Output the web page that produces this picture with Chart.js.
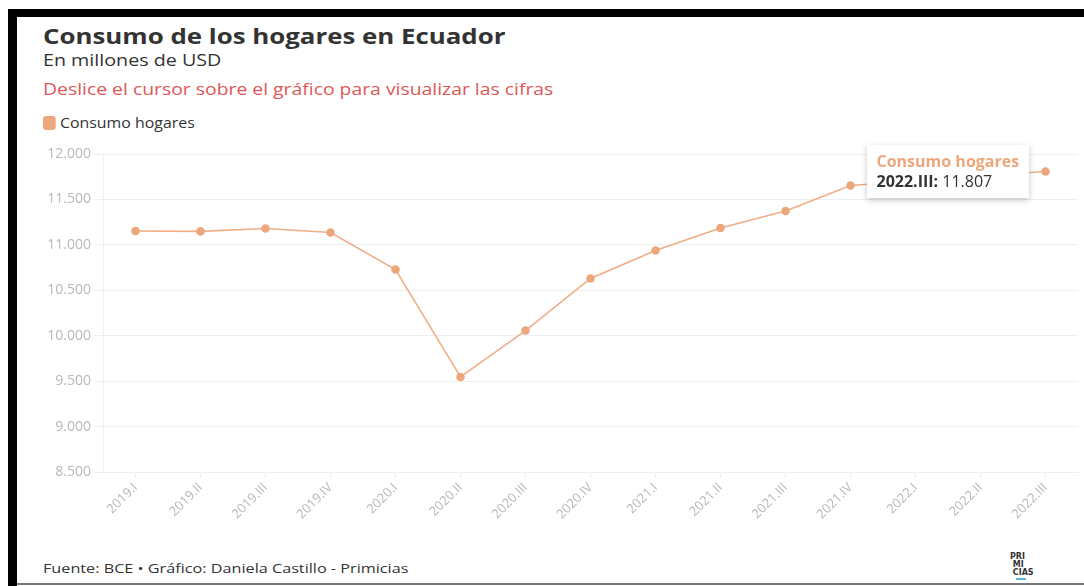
<!DOCTYPE html>
<html>
<head>
<meta charset="utf-8">
<script src="https://cdn.jsdelivr.net/npm/chart.js@4/dist/chart.umd.min.js"></script>
<style>
  html, body { margin: 0; padding: 0; background: #fff; }
  body { width: 1084px; height: 586px; position: relative; overflow: hidden; font-family: "Open Sans", Lato, sans-serif; }
  .marco-top { position: absolute; left: 8px; top: 9px; width: 1076px; height: 8px; background: #000; }
  .marco-left { position: absolute; left: 8px; top: 9px; width: 9px; height: 577px; background: #000; }
  .marco-bottom { position: absolute; left: 17px; top: 583px; width: 1067px; height: 2px; background: #777; }
  .texto { position: absolute; left: 43px; white-space: nowrap; transform-origin: 0 0; line-height: normal; }
  #titulo { top: 20px; font-size: 22px; font-weight: 700; color: #333; transform: scaleX(1.175); }
  #subtitulo { top: 49px; font-size: 15.5px; color: #333; transform: scaleX(1.27); }
  #aviso { top: 78px; font-size: 16px; color: #e05757; transform: scaleX(1.21); }
  #leyenda { top: 112px; font-size: 15px; color: #333; transform: scaleX(1.06); }
  #leyenda span.cuadro { display: inline-block; width: 12px; height: 14px; border-radius: 3px; background: #eda77c; vertical-align: -2px; margin-right: 4px; }
  #grafico { position: absolute; left: 0; top: 140px; width: 1084px; height: 380px; }
  #fuente { top: 559px; font-size: 13.5px; color: #333; transform: scaleX(1.2); }
  #logo { position: absolute; left: 1010px; top: 553px; font-size: 8px; font-weight: 900; line-height: 8px; color: #333; font-family: "DejaVu Sans", sans-serif; }
  #logo .raya { width: 10px; height: 2px; background: #5ab4e0; margin: 1px 0 0 6px; }
  #tooltip { position: absolute; background: #fff; box-shadow: 0 2px 6px rgba(0,0,0,0.22); padding: 6px 10px 7px 10px; white-space: nowrap; pointer-events: none; }
  #tooltip .t { color: #eda77c; font-weight: 700; font-size: 16px; line-height: 20px; }
  #tooltip .b { color: #333; font-size: 16px; line-height: 20px; }
</style>
</head>
<body>
<div class="marco-top"></div>
<div class="marco-left"></div>
<div class="marco-bottom"></div>
<div id="titulo" class="texto">Consumo de los hogares en Ecuador</div>
<div id="subtitulo" class="texto">En millones de USD</div>
<div id="aviso" class="texto">Deslice el cursor sobre el gráfico para visualizar las cifras</div>
<div id="leyenda" class="texto"><span class="cuadro"></span>Consumo hogares</div>
<div id="grafico"><canvas id="graficoConsumo"></canvas></div>
<div id="fuente" class="texto">Fuente: BCE • Gráfico: Daniela Castillo - Primicias</div>
<div id="logo">PRI<br>&nbsp;MI<br>&nbsp;CIAS<div class="raya"></div></div>

<script>
var trimestres = ["2019.I", "2019.II", "2019.III", "2019.IV", "2020.I", "2020.II", "2020.III", "2020.IV",
                  "2021.I", "2021.II", "2021.III", "2021.IV", "2022.I", "2022.II", "2022.III"];
var consumoHogares = [11153, 11148, 11180, 11136, 10729, 9546, 10057, 10630,
                      10938, 11186, 11373, 11653, 11705, 11760, 11807];
var nombreSerie = "Consumo hogares";

function miles(v) {
    return String(v).replace(/\B(?=(\d{3})+(?!\d))/g, '.');
}

function tooltipExterno(context) {
    var tip = context.tooltip;
    var el = document.getElementById('tooltip');
    if (!el) {
        el = document.createElement('div');
        el.id = 'tooltip';
        document.body.appendChild(el);
    }
    if (tip.opacity === 0 || !tip.dataPoints || !tip.dataPoints.length) {
        el.style.display = 'none';
        return;
    }
    var p = tip.dataPoints[0];
    el.innerHTML = '<div class="t">' + nombreSerie + '</div>' +
        '<div class="b"><b>' + p.label + ':</b> ' + miles(p.raw) + '</div>';
    el.style.display = 'block';
    var caja = context.chart.canvas.getBoundingClientRect();
    var px = caja.left + p.element.x;
    var py = caja.top + p.element.y;
    el.style.left = (px - 16 - el.offsetWidth) + 'px';
    el.style.top = (py - el.offsetHeight / 2) + 'px';
}

var ctx = document.getElementById('graficoConsumo').getContext('2d');
var chart = new Chart(ctx, {
    type: 'line',
    data: {
        labels: trimestres,
        datasets: [{
            label: nombreSerie,
            data: consumoHogares,
            borderColor: '#f0ad86',
            backgroundColor: '#eda77c',
            pointBackgroundColor: '#eda77c',
            pointBorderColor: '#eda77c',
            borderWidth: 1.6,
            pointRadius: 3.5,
            pointHoverRadius: 3.5,
            tension: 0,
            clip: false
        }]
    },
    options: {
        responsive: true,
        maintainAspectRatio: false,
        animation: false,
        layout: { padding: { top: 14, right: 6, left: 0, bottom: 0 } },
        plugins: {
            legend: { display: false },
            tooltip: { enabled: false, external: tooltipExterno }
        },
        scales: {
            x: {
                offset: true,
                grid: { drawOnChartArea: false, drawTicks: true, tickLength: 6, color: '#eeeeee' },
                border: { color: '#eeeeee' },
                ticks: {
                    color: '#b8b8b8',
                    font: { family: 'Open Sans', size: 13 },
                    maxRotation: 45, minRotation: 45,
                    autoSkip: false,
                    padding: 2
                },
                afterFit: function (scale) { scale.height = 48; }
            },
            y: {
                min: 8500,
                max: 12000,
                grid: { color: '#eeeeee', tickLength: 8 },
                border: { color: '#eeeeee' },
                ticks: {
                    stepSize: 500,
                    color: '#b8b8b8',
                    font: { family: 'Open Sans', size: 14 },
                    padding: 4,
                    callback: function (v) { return miles(v); }
                },
                afterFit: function (scale) { scale.width = 103; }
            }
        }
    }
});

var ultimo = consumoHogares.length - 1;
var punto = chart.getDatasetMeta(0).data[ultimo];
chart.tooltip.setActiveElements([{ datasetIndex: 0, index: ultimo }], { x: punto.x, y: punto.y });
chart.update();
</script>
</body>
</html>
